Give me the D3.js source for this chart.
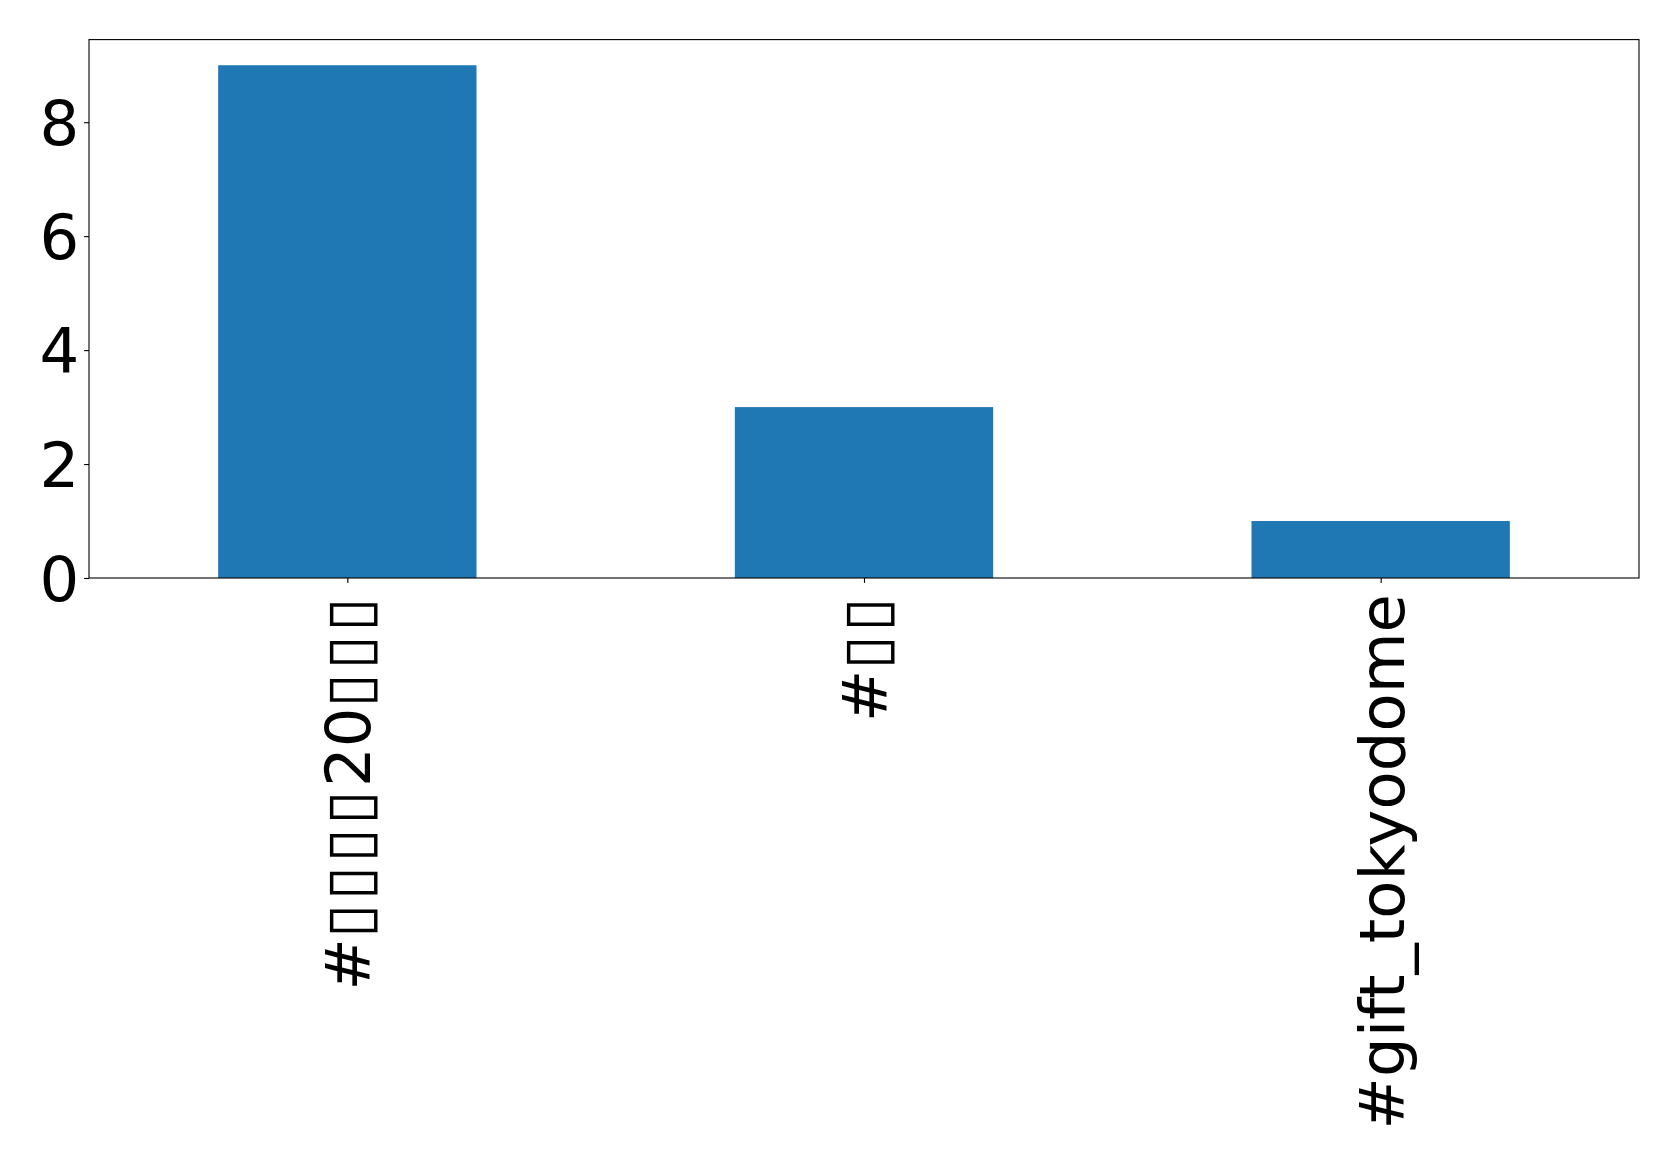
<!DOCTYPE html>
<html>
<head>
<meta charset="utf-8">
<script src="https://cdn.jsdelivr.net/npm/d3@7"></script>
<style>
  html, body { margin: 0; padding: 0; background: #fff; }
  svg text { font-family: "DejaVu Sans", sans-serif; }
</style>
</head>
<body>
<svg id="chart" width="1679" height="1163"></svg>
<script>
const categories = ["#\u25AF\u25AF\u25AF\u25AF20\u25AF\u25AF\u25AF", "#\u25AF\u25AF", "#gift_tokyodome"];
const values = [9, 3, 1];
const yTicks = [0, 2, 4, 6, 8];

const svg = d3.select("#chart");
const margin = { left: 89, right: 1679 - 1639, top: 39.6, bottom: 1163 - 578 };
const W = 1679, H = 1163;
const iw = W - margin.left - margin.right;
const ih = H - margin.top - margin.bottom;

const x = d3.scaleLinear().domain([-0.5, categories.length - 0.5]).range([0, iw]);
const y = d3.scaleLinear().domain([0, 9.45]).range([ih, 0]);

const g = svg.append("g").attr("transform", `translate(${margin.left},${margin.top})`);

g.selectAll("rect.bar").data(values).join("rect")
  .attr("class", "bar")
  .attr("x", (d, i) => x(i - 0.25))
  .attr("width", (d, i) => x(i + 0.25) - x(i - 0.25))
  .attr("y", d => y(d))
  .attr("height", d => y(0) - y(d))
  .attr("fill", "#1f77b4");

// frame
g.append("rect").attr("x", 0).attr("y", 0).attr("width", iw).attr("height", ih)
  .attr("fill", "none").attr("stroke", "#000").attr("stroke-width", 1.1);

const fs = 62.5;
const yAxis = d3.axisLeft(y).tickValues(yTicks).tickFormat(d3.format("d")).tickSize(4.9).tickPadding(4.9);
const ya = g.append("g").call(yAxis);
ya.select(".domain").remove();
ya.selectAll("line").attr("stroke", "#000").attr("stroke-width", 1.1);
ya.selectAll("text").attr("font-size", fs).attr("fill", "#000")
  .attr("font-family", "DejaVu Sans").attr("dy", "0.36em");

const xAxis = d3.axisBottom(x).tickValues(d3.range(categories.length)).tickFormat(i => categories[i]).tickSize(4.9).tickPadding(4.9);
const xa = g.append("g").attr("transform", `translate(0,${ih})`).call(xAxis);
xa.select(".domain").remove();
xa.selectAll("line").attr("stroke", "#000").attr("stroke-width", 1.1);
xa.selectAll("text")
  .attr("font-size", fs).attr("fill", "#000").attr("font-family", "DejaVu Sans")
  .attr("text-anchor", "end")
  .attr("dy", "0.36em")
  .attr("transform", "translate(0,16) rotate(-90)")
  .attr("x", 0).attr("y", 0)
  .each(function () {
    const t = d3.select(this);
    const s = t.text();
    t.text(null);
    for (const ch of s) {
      const sp = t.append("tspan").text(ch);
      if (ch === "\u25AF") sp.attr("letter-spacing", 3.4).attr("font-weight", "bold");
    }
  });
</script>
</body>
</html>
